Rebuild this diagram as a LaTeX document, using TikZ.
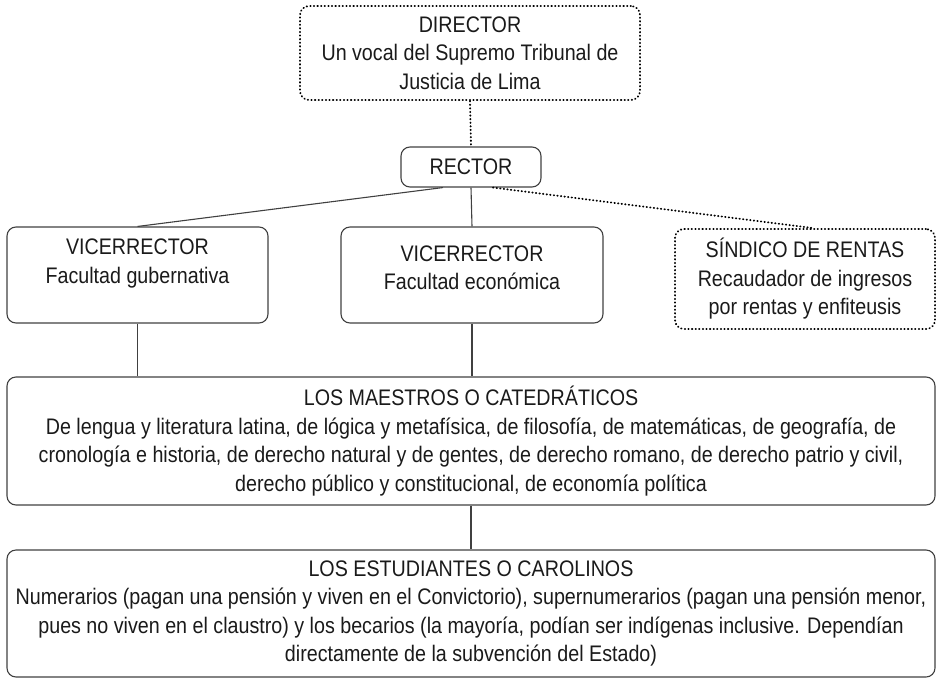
\documentclass[tikz,border=0pt]{standalone}
\usepackage{fontspec}
\setmainfont{Liberation Sans}[FakeStretch=0.875]
\usetikzlibrary{calc}

\definecolor{linegray}{HTML}{404040}
\definecolor{textgray}{HTML}{1A1A1A}
\newcommand{\orgfont}{\fontsize{22.5}{28.5}\selectfont}

\tikzset{
    orgbox/.style={draw=linegray, line width=1.1pt, rounded corners=9pt, align=center,
        inner sep=0pt, text=textgray, font=\orgfont},
    dotline/.style={draw=black, line width=1.9pt, line cap=round, dash pattern=on 0.4pt off 3.2pt},
    dotbox/.style={orgbox, dotline},
    solidline/.style={draw=linegray, line width=1.1pt},
}

\begin{document}
\begin{tikzpicture}[x=1pt, y=-1pt]
    %% University organisation chart

    % Frame
    \useasboundingbox (0,0) rectangle (937,678);

    % Boxes
    \node[dotbox, minimum width=340, minimum height=94] (director) at (470,53)
        {DIRECTOR\\Un vocal del Supremo Tribunal de\\Justicia de Lima};
    \node[orgbox, minimum width=140, minimum height=40] (rector) at (471,167) {RECTOR};
    \node[orgbox, minimum width=261, minimum height=96, text depth=28pt] (viceGub) at (137.5,275)
        {VICERRECTOR\\Facultad gubernativa};
    \node[orgbox, minimum width=262, minimum height=96, text depth=15pt] (viceEcon) at (472,275)
        {VICERRECTOR\\Facultad económica};
    \node[dotbox, minimum width=260, minimum height=100] (sindico) at (805,279)
        {SÍNDICO DE RENTAS\\Recaudador de ingresos\\por rentas y enfiteusis};
    \node[orgbox, minimum width=928, minimum height=128] (maestros) at (471,441)
        {LOS MAESTROS O CATEDRÁTICOS\\
         De lengua y literatura latina, de lógica y metafísica, de filosofía, de matemáticas, de geografía, de\\
         cronología e historia, de derecho natural y de gentes, de derecho romano, de derecho patrio y civil,\\
         derecho público y constitucional, de economía política};
    \node[orgbox, minimum width=928, minimum height=127] (estudiantes) at (471,613.5)
        {LOS ESTUDIANTES O CAROLINOS\\
         Numerarios (pagan una pensión y viven en el Convictorio), supernumerarios (pagan una pensión menor,\\
         pues no viven en el claustro) y los becarios (la mayoría, podían ser indígenas inclusive. Dependían\\
         directamente de la subvención del Estado)};

    % Coords
    \coordinate (rGub) at ($(rector.south)+(-28,0)$);
    \coordinate (rSin) at ($(rector.south)+(22,0)$);
    \coordinate (sTop) at ($(sindico.north)+(8,0)$);

    % Connectors
    \draw[dotline] (director.south) -- (rector.north);
    \draw[solidline] (rGub) -- (viceGub.north);
    \draw[solidline] (rector.south) -- (viceEcon.north);
    \draw[dotline] (rSin) -- (sTop);
    \draw[solidline] (viceGub.south) -- (viceGub.south |- maestros.north);
    \draw[solidline] (viceEcon.south) -- (viceEcon.south |- maestros.north);
    \draw[solidline] (maestros.south) -- (estudiantes.north);

\end{tikzpicture}
\end{document}
